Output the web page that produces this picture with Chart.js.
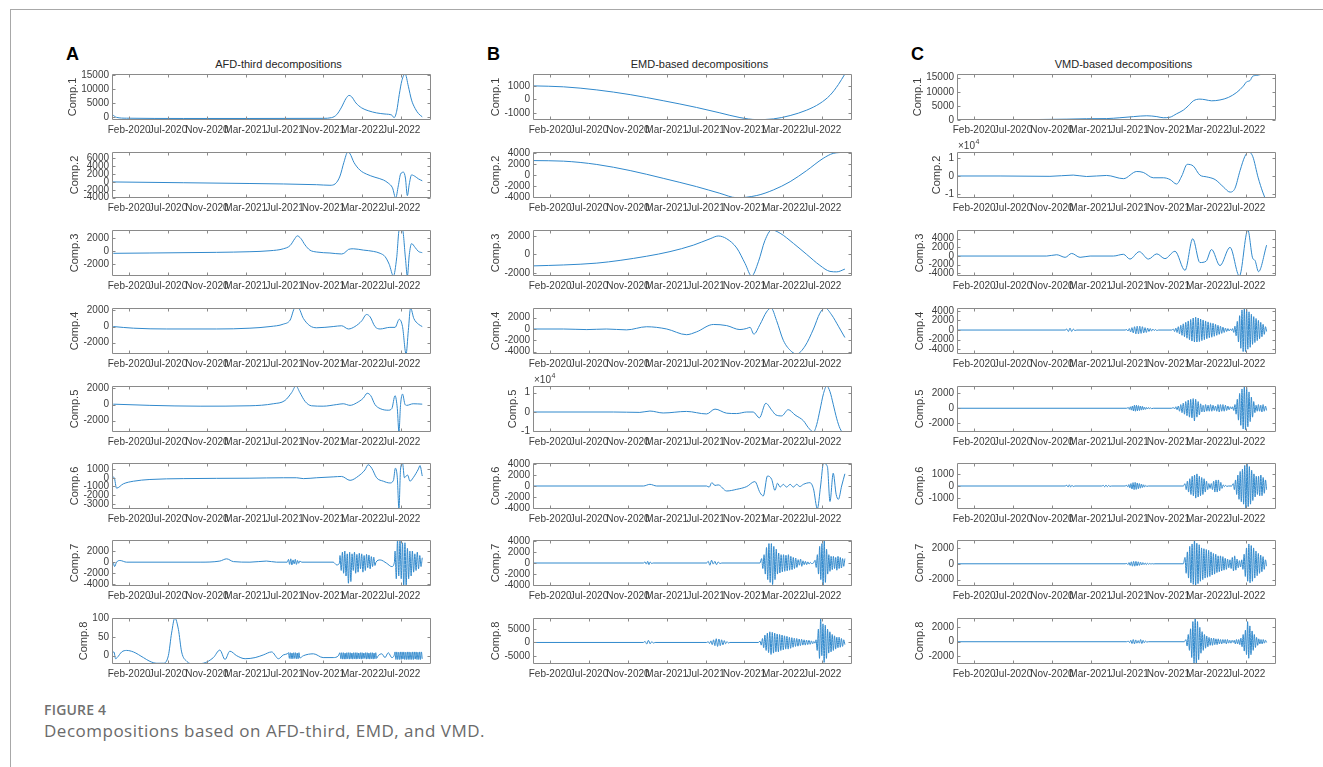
<!DOCTYPE html>
<html>
<head>
<meta charset="utf-8">
<script src="https://cdn.jsdelivr.net/npm/chart.js@4.4.1/dist/chart.umd.min.js"></script>
<style>
  html, body { margin: 0; padding: 0; background: #fff; }
  body { width: 1323px; height: 767px; position: relative; overflow: hidden; font-family: "Liberation Sans", Arial, sans-serif; }
  #frame { position: absolute; left: 10px; top: 9px; width: 1313px; height: 758px; border-top: 1px solid #a8a8a8; border-left: 1px solid #a8a8a8; box-sizing: border-box; }
  canvas { position: absolute; }
  .panel { position: absolute; font: bold 18px/18px "Liberation Sans", Arial, sans-serif; color: #000; }
  .ptitle { position: absolute; width: 319px; text-align: center; font: 11px/13px "Liberation Sans", Arial, sans-serif; color: #262626; }
  .fig { position: absolute; left: 44px; top: 700px; font: 600 14px/19px "Open Sans", sans-serif; color: #707070; letter-spacing: 0.2px; }
  .cap { position: absolute; left: 44px; top: 719px; font: 17px/23px "Open Sans", sans-serif; color: #6a6a6a; letter-spacing: 0.5px; }
</style>
</head>
<body>
<div id="frame"></div>
<div class="fig">FIGURE 4</div>
<div class="cap">Decompositions based on AFD-third, EMD, and VMD.</div>
<script>
// ---- time axis (day index from the first observation) ----
const X_MAX = 985;
const TICK_POS = [53, 173, 293, 413, 533, 653, 773, 893];
const TICK_LABELS = ['Feb-2020', 'Jul-2020', 'Nov-2020', 'Mar-2021', 'Jul-2021', 'Nov-2021', 'Mar-2022', 'Jul-2022'];

// A dense stretch of samples: values spread evenly between two days.
function R(from, to, vals) { return { from: from, to: to, vals: vals }; }

// ---- AFD-third components: [day, value] ----
const AFD_1 = [[1,800],[14,-200],[45,-500],[220,-600],[426,-600],[652,-550],[678,-300],[694,800],[709,3500],[722,6500],[732,7700],[740,7200],[753,5000],[771,3200],[791,2200],[817,1400],[843,1000],[864,600],[871,-300],[879,2000],[887,8000],[895,13000],[905,15500],[915,11000],[925,6000],[936,3000],[946,1200],[958,0]];
const AFD_2 = [[1,0],[220,-200],[426,-400],[632,-700],[673,-850],[689,-500],[704,1500],[716,5000],[728,7600],[735,7200],[747,5000],[766,3000],[786,2000],[812,1200],[838,500],[853,-300],[866,-1500],[876,-4100],[884,-1000],[891,2000],[900,2500],[906,1000],[912,-3500],[918,-500],[925,1800],[936,1400],[946,800],[958,300]];
const AFD_3 = [[4,-300],[117,-250],[323,-150],[426,-50],[488,100],[529,400],[550,900],[565,2000],[572,2400],[583,2000],[596,1000],[611,200],[632,-100],[673,-250],[709,-400],[719,-200],[730,300],[745,400],[776,200],[807,0],[828,-300],[843,-800],[856,-2000],[869,-3800],[879,-1000],[887,3300],[897,3300],[906,-1000],[912,-3800],[918,-500],[925,1200],[936,600],[946,0],[958,-200]];
const AFD_4 = [[4,0],[66,-200],[169,-300],[323,-300],[426,-200],[488,0],[529,300],[550,800],[565,2300],[575,2300],[591,1000],[611,100],[632,-150],[683,0],[709,100],[730,-300],[750,0],[771,700],[786,1500],[797,1200],[812,0],[828,-300],[858,-100],[874,-100],[887,900],[897,0],[908,-3400],[915,-500],[922,2300],[932,1000],[946,300],[958,0]];
const AFD_5 = [[4,50],[117,-100],[272,-200],[426,-150],[498,100],[534,500],[555,1500],[568,2300],[580,1500],[596,400],[616,-150],[652,-200],[694,0],[714,100],[735,-100],[755,200],[776,800],[788,1400],[799,1100],[812,0],[828,-500],[853,-700],[864,-500],[874,1100],[881,-500],[886,-3400],[891,0],[897,1300],[905,0],[910,-100],[930,100],[958,50]];
const AFD_6 = [[2,100],[7,0],[14,-1200],[35,-700],[66,-400],[117,-200],[220,-100],[426,-50],[529,0],[570,0],[591,-100],[632,0],[683,100],[709,150],[735,-300],[761,200],[781,900],[791,1500],[802,1100],[817,0],[838,-400],[858,-600],[869,-300],[875,1100],[881,0],[886,-3600],[891,1000],[897,1700],[903,0],[908,200],[913,300],[920,-400],[930,0],[946,1000],[951,1400],[958,200]];
const AFD_7 = [[4,0],[8,-800],[14,0],[25,300],[45,0],[272,0],[333,200],[354,600],[375,100],[426,0],[477,200],[508,0],[541,0],
  R(545,580,[500,-400,600,-500,400,-300,500,-400,300,-200,200]),
  [586,0],[683,0],[694,-500],[702,-200],
  R(704,812,[1200,-1500,1800,-2000,2000,-2500,1500,-3800,1800,-3500,1500,-1500,1800,-2000,1400,-1800,1600,-1200,1500,-1800,1200,-1500,1400,-1000,1300,-1200,1000,-800,900,-600]),
  [815,0],[828,400],[848,-200],[864,-800],[872,0],
  R(874,958,[2000,-3000,4000,-2500,4000,-3000,3500,-4300,3500,-4300,2500,-3000,2000,-2500,2000,-1800,1500,-1500,1800,-1200,1200,-800,800])];
const AFD_8 = [[2,8],[6,10],[11,-8],[16,-5],[30,10],[45,14],[66,10],[97,-5],[117,-15],[138,-20],[158,-20],[174,0],[184,60],[194,100],[205,70],[215,10],[231,-15],[251,-22],[282,-20],[313,-5],[333,15],[349,-10],[364,12],[385,0],[411,-8],[442,-5],[467,2],[493,10],[514,-8],[529,2],[541,5],
  R(545,580,[8,-7,8,-8,7,-8,8,-7,8,-8,7,-8,8,-6]),
  [591,0],[622,5],[652,-5],[683,-5],[699,0],
  R(704,817,[8,-8,8,-9,8,-9,7,-9,8,-8,8,-9,8,-8,7,-9,8,-8,8,-9,8,-8,7,-8,8,-9,8,-8,7,-7,8,-9,8,-8,7,-9,8,-8,8,-9,7,-8,8,-7]),
  [822,0],[833,5],[843,-5],[853,8],[864,-5],[871,0],
  R(874,958,[10,-10,10,-10,9,-10,10,-10,10,-9,10,-10,9,-10,10,-10,10,-10,9,-10,10,-10,10,-9,10,-10,9,-10,10,-10,10,-8])];

// ---- EMD-based components ----
const EMD_1 = [[0,1000],[94,930],[197,700],[300,350],[402,-100],[505,-600],[577,-1000],[639,-1350],[691,-1500],[742,-1450],[794,-1200],[845,-800],[886,-300],[917,300],[943,1100],[963,1880]];
const EMD_2 = [[0,2600],[94,2500],[197,1900],[300,800],[402,-600],[505,-2100],[577,-3300],[629,-4100],[691,-3700],[742,-2700],[794,-1200],[845,800],[896,3000],[927,3900],[963,4100]];
const EMD_3 = [[0,-1250],[94,-1150],[197,-950],[269,-650],[351,-200],[423,300],[495,1000],[547,1700],[572,2000],[598,1700],[629,700],[655,-1000],[675,-2350],[696,-800],[716,1500],[737,2650],[763,2300],[804,1200],[845,0],[886,-1200],[917,-1850],[938,-1900],[963,-1600]];
const EMD_4 = [[0,0],[94,0],[166,-100],[227,0],[289,-150],[351,400],[413,0],[474,-1000],[505,-500],[557,800],[598,600],[639,-100],[660,100],[670,300],[682,-900],[701,800],[721,3000],[735,3700],[752,1500],[773,-2000],[799,-4000],[814,-4400],[840,-3000],[866,0],[886,2800],[902,3700],[922,2500],[943,500],[963,-1500]];
const EMD_5 = [[0,0],[248,0],[330,-200],[361,500],[402,-500],[474,300],[536,-1000],[562,1500],[598,-600],[629,-800],[660,0],[680,0],[699,-3000],[719,4500],[737,1000],[750,-1500],[768,-2000],[788,1200],[809,-1500],[835,-4500],[850,-8000],[866,-10300],[876,-6500],[886,1000],[897,9500],[907,13400],[917,10500],[927,4000],[938,-3500],[948,-8500],[963,-12000]];
const EMD_6 = [[0,0],[341,0],[361,300],[382,0],[536,0],[544,-200],[552,600],[562,100],[572,200],[598,-900],[629,-600],[660,-100],[685,800],[701,-1200],[711,-1800],[724,1800],[737,1200],[747,-800],[755,500],[763,-200],[773,300],[783,-200],[794,300],[804,-200],[814,300],[824,-100],[835,300],[855,600],[866,-500],[878,-4100],[888,0],[897,4100],[909,3500],[917,-2800],[927,2300],[936,-1500],[943,-2400],[953,0],[963,2200]];
const EMD_7 = [[0,0],[341,0],
  R(346,366,[200,-200,300,-300,200,-100]),
  [371,0],[536,0],
  R(541,577,[300,-400,500,-200,300,-300,200,-100]),
  [583,0],[701,0],
  R(706,860,[800,-1000,1500,-2000,2800,-3000,3500,-3500,3500,-3900,3000,-3000,2500,-2000,1800,-1800,1500,-1600,1500,-1500,1400,-1400,1500,-1300,1200,-1200,1000,-1000,900,-800,600,-400,700,-600,400,-300,300,-300,200,-200,100,-100]),
  [866,0],
  R(871,963,[500,-800,1500,-2000,3000,-3000,3500,-4100,4150,-3500,2500,-2000,1500,-1500,1200,-1200,1200,-1000,1000,-1300,1200,-1000,1000,-900,800,-600,800])];
const EMD_8 = [[0,0],[341,0],
  R(346,372,[400,-600,800,-500,300,-200]),
  [377,0],[536,0],
  R(541,603,[300,-400,600,-800,1000,-1200,1400,-1500,1300,-1200,1000,-900,700,-500,300,-200]),
  [608,0],[696,0],
  R(701,871,[500,-1000,1500,-2000,2800,-3000,3500,-3800,4000,-4500,3800,-4000,3500,-3500,3200,-3500,3000,-3000,2800,-2800,2500,-2500,2300,-2500,2000,-2200,1800,-1800,1600,-1500,1500,-1400,1300,-1200,1200,-1000,1000,-1000,900,-800,800,-700,600,-500,400,-300]),
  R(874,963,[1000,-3000,5000,-6000,9200,-5000,7000,-7500,6500,-6000,5000,-4000,4000,-3500,3000,-3000,2500,-2500,2000,-2000,2000,-1800,1500,-1500,1000,-800])];

// ---- VMD-based components ----
const VMD_1 = [[0,0],[133,50],[236,150],[339,300],[400,450],[462,500],[503,800],[545,1200],[586,1500],[617,1200],[637,800],[658,1000],[678,2200],[699,3500],[714,5000],[730,6800],[750,7400],[766,7200],[786,6800],[812,7100],[838,8000],[864,9800],[884,12000],[894,13500],[905,14000],[913,15500],[925,15800],[941,16200],[956,16300]];
const VMD_2 = [[0,0],[133,0],[287,-200],[359,500],[400,-300],[462,300],[514,-1500],[555,2500],[575,2000],[606,-1000],[637,-1000],[658,-2000],[678,-4500],[694,0],[711,6500],[730,5500],[750,500],[771,-500],[797,-2000],[822,-6000],[843,-9000],[858,-7000],[874,3000],[889,11000],[900,13400],[913,11000],[930,-1000],[944,-9000],[956,-14500]];
const VMD_3 = [[0,0],[277,0],[308,300],[334,-300],[354,600],[380,-300],[411,0],[483,0],[514,400],[534,-700],[563,1000],[591,-700],[617,500],[642,-600],[673,1100],[704,-3300],[728,4000],[750,-1500],[769,-1200],[786,1500],[812,-2200],[843,2000],[872,-4600],[898,6000],[913,-500],[920,-1000],[931,-3600],[956,2500]];
const VMD_4 = [[0,0],[334,0],
  R(339,364,[200,-300,400,-300,200,-100]),
  [370,0],[519,0],
  R(524,617,[100,-200,300,-400,500,-600,700,-800,800,-800,800,-700,700,-600,500,-500,400,-300,300,-200,200,-100,100,-100]),
  [622,0],[663,0],
  R(668,848,[200,-300,400,-500,700,-800,1000,-1100,1300,-1400,1600,-1700,1900,-2000,2200,-2300,2500,-2500,2700,-2500,2500,-2400,2300,-2200,2100,-2000,1900,-1800,1700,-1600,1500,-1500,1400,-1300,1200,-1100,1000,-900,800,-700,600,-500,400,-300,300,-200,200,-100]),
  R(851,956,[300,-500,800,-1200,1800,-2500,3000,-3800,4200,-4500,4600,-4500,4300,-4000,3800,-3600,3300,-3000,2800,-2600,2400,-2200,2000,-1800,1600,-1400,1200,-900,700,-300])];
const VMD_5 = [[0,0],[524,0],
  R(529,601,[100,-150,200,-250,300,-350,400,-400,400,-350,350,-300,300,-250,250,-200,150,-150,100,-100,100,-50,50,-50]),
  [606,0],[663,0],
  R(668,848,[100,-100,200,-200,300,-400,500,-600,700,-800,900,-1000,1100,-1200,1200,-1300,1300,-1700,1200,-1200,900,-900,600,-500,400,-500,500,-400,400,-400,500,-400,400,-300,300,-400,500,-500,500,-400,500,-400,400,-300,300,-200,200,-100]),
  R(851,956,[200,-300,500,-800,1200,-1600,2000,-2300,2600,-2800,3000,-2900,2800,-2500,2200,-1800,1500,-1200,900,-600,400,-400,500,-400,400,-500,500,-400,300,-300])];
const VMD_6 = [[0,0],[334,0],
  R(339,359,[60,-80,100,-80,60,-40]),
  [364,0],[447,0],
  R(452,472,[50,-70,80,-60,50,-30]),
  [477,0],[519,0],
  R(524,586,[50,-80,120,-150,200,-250,280,-300,300,-280,250,-220,200,-180,150,-120,100,-80,50,-30]),
  [591,0],[699,0],
  R(704,833,[200,-300,400,-500,600,-700,800,-800,900,-1000,1000,-900,800,-800,700,-700,600,-500,400,-300,200,-200,200,-300,400,-500,500,-500,500,-400,300,-200,100,-50,50,-30]),
  [838,0],[848,0],
  R(853,956,[200,-300,500,-700,900,-1100,1200,-1300,1400,-1500,1700,-1900,1900,-1700,1600,-1500,1300,-1200,1000,-900,800,-700,800,-800,900,-800,700,-600,500,-300])];
const VMD_7 = [[0,0],[519,0],
  R(524,606,[50,-100,150,-200,250,-300,300,-300,300,-250,250,-200,200,-150,150,-100,100,-100,80,-60,50,-40,30,-20]),
  [611,0],[699,0],
  R(704,956,[800,-1200,1500,-1800,2200,-2400,2500,-2600,3000,-2800,2600,-2500,2400,-2200,2000,-2000,1900,-1800,1800,-1700,1700,-1600,1500,-1400,1300,-1300,1200,-1100,1000,-1000,1000,-900,900,-800,700,-700,600,-500,500,-600,800,-900,1000,-800,600,-500,400,-400,500,-700,1200,-1600,2000,-2200,2500,-2400,2300,-2200,2000,-1800,1600,-1500,1300,-1200,1100,-1000,900,-700,500,-300])];
const VMD_8 = [[0,0],[524,0],
  R(529,586,[80,-120,200,-250,300,-300,250,-200,150,-200,300,-250,200,-150,100,-50]),
  [591,0],[702,0],
  R(707,853,[300,-600,1000,-1200,1800,-2200,2800,-3000,3300,-3100,2800,-2500,2000,-1600,1400,-1200,1000,-900,800,-700,600,-500,500,-500,500,-400,400,-400,400,-300,300,-300,300,-200,300,-300,300,-200,200,-200,200,-100]),
  R(856,956,[200,-300,300,-300,300,-400,500,-700,1000,-1300,1600,-1800,2800,-2300,2200,-1800,1500,-1200,1000,-800,600,-500,400,-300,300,-300,300,-200,200,-100])];

// ---- y limits and y ticks per component ----
const AFD_LIMITS = [[-1150,15400],[-4100,7650],[-3800,3300],[-3400,2300],[-3400,2300],[-3600,1700],[-4300,4000],[-22,100]];
const AFD_TICKS = [[0,5000,10000,15000],[-4000,-2000,0,2000,4000,6000],[-2000,0,2000],[-2000,0,2000],[-2000,0,2000],[-3000,-2000,-1000,0,1000],[-4000,-2000,0,2000],[0,50,100]];
const EMD_LIMITS = [[-1530,1880],[-4150,4150],[-2350,2650],[-4400,3700],[-10300,13400],[-4150,4150],[-4150,4150],[-8100,9200]];
const EMD_TICKS = [[-1000,0,1000],[-4000,-2000,0,2000,4000],[-2000,0,2000],[-4000,-2000,0,2000],[-10000,0,10000],[-4000,-2000,0,2000,4000],[-4000,-2000,0,2000,4000],[-5000,0,5000]];
const VMD_LIMITS = [[0,16300],[-12300,13400],[-4600,6000],[-5000,4600],[-3200,3000],[-1900,1900],[-2800,3000],[-3100,3300]];
const VMD_TICKS = [[0,5000,10000,15000],[-10000,0,10000],[-4000,-2000,0,2000,4000],[-4000,-2000,0,2000,4000],[-2000,0,2000],[-1000,0,1000],[-2000,0,2000],[-2000,0,2000]];
// components whose y axis is shown in units of 10^4
const EMD_SCI = [4];
const VMD_SCI = [1];

const COLUMNS = [
  { letter: 'A', title: 'AFD-third decompositions', series: [AFD_1,AFD_2,AFD_3,AFD_4,AFD_5,AFD_6,AFD_7,AFD_8], limits: AFD_LIMITS, ticks: AFD_TICKS, sci: [] },
  { letter: 'B', title: 'EMD-based decompositions', series: [EMD_1,EMD_2,EMD_3,EMD_4,EMD_5,EMD_6,EMD_7,EMD_8], limits: EMD_LIMITS, ticks: EMD_TICKS, sci: EMD_SCI },
  { letter: 'C', title: 'VMD-based decompositions', series: [VMD_1,VMD_2,VMD_3,VMD_4,VMD_5,VMD_6,VMD_7,VMD_8], limits: VMD_LIMITS, ticks: VMD_TICKS, sci: VMD_SCI }
];

// ---- layout ----
const BOX_LEFT = [112, 533, 957];
const BOX_TOP = [74, 152, 230, 308, 386, 463, 540, 618];
const BOX_W = 319, BOX_H = 46;
const AXIS_W = 70, PAD_TOP = 22, PAD_RIGHT = 8, XLAB_H = 20;
const TICK_LEN = 3, Y_PAD = 3;
const LINE_COLOR = '#3189cc';
const TEXT_COLOR = '#3c3c3c';
const AXIS_COLOR = '#8a8a8a';
const FONT_FAMILY = '"Liberation Sans", Arial, sans-serif';

function expand(series) {
  const pts = [];
  series.forEach(function (item) {
    if (Array.isArray(item)) {
      pts.push({ x: item[0], y: item[1] });
    } else {
      const n = item.vals.length;
      item.vals.forEach(function (v, i) {
        pts.push({ x: item.from + (item.to - item.from) * i / (n - 1), y: v });
      });
    }
  });
  return pts;
}

// MATLAB-style box: frame on all sides, inward ticks, y label next to tick labels
const matlabAxes = {
  id: 'matlabAxes',
  afterDraw: function (chart, args, opts) {
    const ctx = chart.ctx, a = chart.chartArea, xs = chart.scales.x, ys = chart.scales.y;
    const L = Math.round(a.left) + 0.5, Rt = Math.round(a.right) - 0.5;
    const T = Math.round(a.top) + 0.5, B = Math.round(a.bottom) - 0.5;
    ctx.save();
    ctx.strokeStyle = AXIS_COLOR;
    ctx.lineWidth = 1;
    ctx.beginPath();
    ctx.rect(L, T, Rt - L, B - T);
    xs.ticks.forEach(function (t) {
      const p = Math.round(xs.getPixelForValue(t.value)) + 0.5;
      ctx.moveTo(p, B); ctx.lineTo(p, B - TICK_LEN);
      ctx.moveTo(p, T); ctx.lineTo(p, T + TICK_LEN);
    });
    ys.ticks.forEach(function (t) {
      const p = Math.round(ys.getPixelForValue(t.value)) + 0.5;
      ctx.moveTo(L, p); ctx.lineTo(L + TICK_LEN, p);
      ctx.moveTo(Rt, p); ctx.lineTo(Rt - TICK_LEN, p);
    });
    ctx.stroke();

    ctx.fillStyle = TEXT_COLOR;
    ctx.font = '10px ' + FONT_FAMILY;
    let w = 0;
    ys.ticks.forEach(function (t) { w = Math.max(w, ctx.measureText(String(t.label)).width); });

    ctx.save();
    ctx.font = '11px ' + FONT_FAMILY;
    ctx.textAlign = 'center';
    ctx.textBaseline = 'middle';
    ctx.translate(a.left - Y_PAD - w - 8, (a.top + a.bottom) / 2);
    ctx.rotate(-Math.PI / 2);
    ctx.fillText(opts.label, 0, 0);
    ctx.restore();

    if (opts.sci) {
      ctx.font = '10px ' + FONT_FAMILY;
      ctx.textAlign = 'left';
      ctx.textBaseline = 'alphabetic';
      const base = '\u00d7' + '10';
      ctx.fillText(base, a.left + 1, a.top - 3);
      const bw = ctx.measureText(base).width;
      ctx.font = '7px ' + FONT_FAMILY;
      ctx.fillText('4', a.left + 1 + bw + 0.5, a.top - 8);
    }
    ctx.restore();
  }
};

const CANVAS_W = AXIS_W + BOX_W + PAD_RIGHT;
const CANVAS_H = PAD_TOP + BOX_H + XLAB_H;

COLUMNS.forEach(function (col, c) {
  const letter = document.createElement('div');
  letter.className = 'panel';
  letter.textContent = col.letter;
  letter.style.left = (BOX_LEFT[c] - 46) + 'px';
  letter.style.top = '45px';
  document.body.appendChild(letter);

  const title = document.createElement('div');
  title.className = 'ptitle';
  title.textContent = col.title;
  title.style.left = (BOX_LEFT[c] + 7) + 'px';
  title.style.top = '58px';
  document.body.appendChild(title);

  col.series.forEach(function (series, r) {
    const cv = document.createElement('canvas');
    cv.width = CANVAS_W;
    cv.height = CANVAS_H;
    cv.style.width = CANVAS_W + 'px';
    cv.style.height = CANVAS_H + 'px';
    cv.style.left = (BOX_LEFT[c] - AXIS_W) + 'px';
    cv.style.top = (BOX_TOP[r] - PAD_TOP) + 'px';
    document.body.appendChild(cv);

    const lim = col.limits[r];
    const yTicks = col.ticks[r];
    const sci = col.sci.indexOf(r) >= 0;

    new Chart(cv, {
      type: 'line',
      data: {
        datasets: [{
          data: expand(series),
          borderColor: LINE_COLOR,
          borderWidth: 1,
          pointRadius: 0,
          fill: false,
          cubicInterpolationMode: 'monotone'
        }]
      },
      options: {
        responsive: false,
        animation: false,
        devicePixelRatio: 1,
        events: [],
        layout: { padding: { left: 0, right: PAD_RIGHT, top: PAD_TOP, bottom: 0 } },
        plugins: {
          legend: { display: false },
          tooltip: { enabled: false },
          matlabAxes: { label: 'Comp.' + (r + 1), sci: sci }
        },
        scales: {
          x: {
            type: 'linear', min: 0, max: X_MAX, bounds: 'data',
            grid: { display: false, drawTicks: false },
            border: { display: false },
            afterBuildTicks: function (s) { s.ticks = TICK_POS.map(function (v) { return { value: v }; }); },
            afterFit: function (s) { s.height = XLAB_H; },
            ticks: {
              autoSkip: false, maxRotation: 0, minRotation: 0, padding: 4,
              color: TEXT_COLOR, font: { family: FONT_FAMILY, size: 10 },
              callback: function (v, i) { return TICK_LABELS[i]; }
            }
          },
          y: {
            type: 'linear', min: lim[0], max: lim[1], bounds: 'data',
            grid: { display: false, drawTicks: false },
            border: { display: false },
            afterBuildTicks: function (s) { s.ticks = yTicks.map(function (v) { return { value: v }; }); },
            afterFit: function (s) { s.width = AXIS_W; },
            ticks: {
              autoSkip: false, padding: Y_PAD, color: TEXT_COLOR, font: { family: FONT_FAMILY, size: 10 },
              callback: function (v) { return sci ? String(v / 10000) : String(v); }
            }
          }
        }
      },
      plugins: [matlabAxes]
    });
  });
});
</script>
</body>
</html>
